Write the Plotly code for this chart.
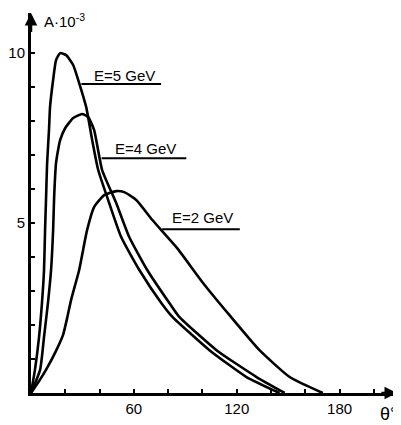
import plotly.graph_objects as go

# ---- data ----
theta_5 = [0, 2.3, 4.7, 6.4, 7.6, 8.2, 8.8, 9.4, 10.5, 11.1, 12.9, 14.6, 17.0, 20.5, 24.6, 28.1, 32.2, 35.7, 39.2, 45.6, 52.6, 63.2, 76.0, 82.5, 104.1, 125.7, 145.0]
A_5     = [0, 0.68, 1.65, 2.65, 3.62, 4.79, 5.76, 6.76, 7.74, 8.41, 9.21, 9.79, 10.0, 9.94, 9.65, 9.12, 8.41, 7.44, 6.56, 5.59, 4.59, 3.62, 2.65, 2.24, 1.26, 0.47, 0]

theta_4 = [0, 5.3, 7.6, 9.9, 11.7, 12.9, 13.5, 14.6, 15.8, 17.0, 19.9, 24.6, 29.8, 33.3, 36.8, 41.5, 49.7, 57.3, 67.8, 80.7, 86.5, 108.2, 131.6, 148.0]
A_4     = [0, 0.68, 1.65, 2.65, 3.62, 4.79, 5.76, 6.76, 7.15, 7.44, 7.79, 8.09, 8.21, 8.12, 7.74, 6.56, 5.59, 4.59, 3.62, 2.65, 2.24, 1.26, 0.47, 0]

theta_2 = [0, 4.7, 9.4, 14.6, 18.7, 21.1, 23.4, 28.1, 30.4, 32.7, 36.8, 42.7, 49.7, 54.4, 61.4, 70.8, 84.8, 100.0, 115.8, 133.3, 150.9, 170.2]
A_2     = [0, 0.35, 0.74, 1.24, 1.71, 2.21, 2.74, 3.62, 4.21, 4.79, 5.47, 5.82, 5.94, 5.91, 5.68, 5.09, 4.29, 3.26, 2.29, 1.26, 0.47, 0]

series_names = ["E=5 GeV", "E=4 GeV", "E=2 GeV"]
label_theta  = [54.7, 66.8, 100.3]
label_A      = [9.35, 7.2, 5.15]
under_x0     = [29.4, 41.2, 76.5]
under_x1     = [75.9, 90.6, 121.8]
under_A      = [9.09, 6.91, 4.82]

x_tickvals = [20, 40, 60, 80, 100, 120, 140, 160, 180, 200]
x_ticktext = ["", "", "60", "", "", "120", "", "", "180", ""]
y_tickvals = [1, 2, 3, 4, 5, 6, 7, 8, 9, 10]
y_ticktext = ["", "", "", "", "5", "", "", "", "", "10"]

X_MAX = 213.5
Y_MAX = 11.18

fig = go.Figure()
for th, a, nm in [(theta_5, A_5, series_names[0]), (theta_4, A_4, series_names[1]), (theta_2, A_2, series_names[2])]:
    fig.add_trace(go.Scatter(x=th, y=a, mode="lines", name=nm,
                             line=dict(color="black", width=2.6, shape="spline", smoothing=0.5),
                             showlegend=False, hoverinfo="skip"))

font_main = dict(family="Liberation Sans, Arial, sans-serif", color="black")

for i, nm in enumerate(series_names):
    fig.add_annotation(x=label_theta[i], y=label_A[i], text=nm, showarrow=False,
                       font=dict(size=15, **font_main), xanchor="center", yanchor="middle")
    fig.add_shape(type="line", x0=under_x0[i], x1=under_x1[i], y0=under_A[i], y1=under_A[i],
                  line=dict(color="black", width=2))

# axis arrows
fig.add_annotation(x=X_MAX, y=0, ax=X_MAX - 10, ay=0, xref="x", yref="y", axref="x", ayref="y",
                   showarrow=True, arrowhead=2, arrowsize=1, arrowwidth=2.5, arrowcolor="black", text="")
fig.add_annotation(x=0, y=Y_MAX, ax=0, ay=Y_MAX - 0.6, xref="x", yref="y", axref="x", ayref="y",
                   showarrow=True, arrowhead=2, arrowsize=1, arrowwidth=2.5, arrowcolor="black", text="")

# axis titles
fig.add_annotation(x=0, y=Y_MAX, xref="x", yref="y", text="A·10<sup>-3</sup>", showarrow=False,
                   xanchor="left", yanchor="top", xshift=11, yshift=4, font=dict(size=15, **font_main))
fig.add_annotation(x=1, y=0, xref="paper", yref="paper", text="θ°", showarrow=False,
                   xanchor="right", yanchor="top", xshift=2, yshift=-9, font=dict(size=18, **font_main))

fig.update_xaxes(range=[0, X_MAX], showgrid=False, zeroline=False, showline=True, linecolor="black",
                 linewidth=3, ticks="inside", ticklen=4, tickwidth=2, tickcolor="black", automargin=False,
                 tickvals=x_tickvals, ticktext=x_ticktext, tickfont=dict(size=15, **font_main))
fig.update_yaxes(range=[0, Y_MAX], showgrid=False, zeroline=False, showline=True, linecolor="black",
                 linewidth=3, ticks="inside", ticklen=4, tickwidth=2, tickcolor="black", automargin=False,
                 tickvals=y_tickvals, ticktext=y_ticktext, tickfont=dict(size=15, **font_main))

# the page adds an 8px body margin, so the figure is sized/offset to compensate
fig.update_layout(width=393, height=417, margin=dict(l=23, r=4, t=5, b=32),
                  plot_bgcolor="white", paper_bgcolor="white")

fig.write_html("out.html")
